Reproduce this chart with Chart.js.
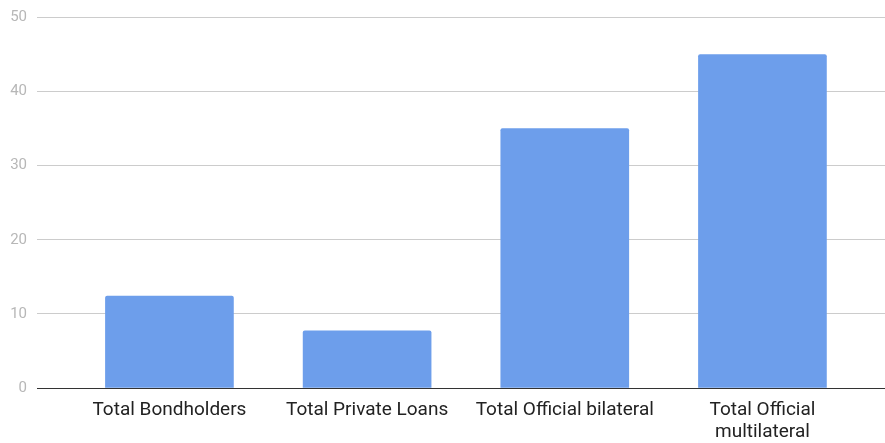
<!DOCTYPE html>
<html>
<head>
<meta charset="utf-8">
<script src="https://cdn.jsdelivr.net/npm/chart.js@4.4.1/dist/chart.umd.min.js"></script>
<style>
  html, body { margin: 0; padding: 0; background: #fff; }
  #wrap { width: 885px; height: 443px; }
</style>
</head>
<body>
<div id="wrap"><canvas id="chart"></canvas></div>
<script>
const categories = [
    'Total Bondholders',
    'Total Private Loans',
    'Total Official bilateral',
    ['Total Official', 'multilateral']
];
const values = [12.4, 7.7, 35, 45];
const yTicks = [0, 10, 20, 30, 40, 50];

const points = values.map((v, i) => ({ x: i, y: v }));

const ctx = document.getElementById('chart').getContext('2d');
new Chart(ctx, {
    type: 'bar',
    data: {
        datasets: [{
            data: points,
            backgroundColor: '#6d9eeb',
            borderRadius: { topLeft: 2, topRight: 2 },
            borderSkipped: 'bottom',
            barThickness: 128
        }]
    },
    options: {
        responsive: true,
        maintainAspectRatio: false,
        animation: false,
        layout: { padding: { top: 11, right: 0, left: 0, bottom: 0 } },
        plugins: { legend: { display: false }, tooltip: { enabled: false } },
        scales: {
            x: {
                type: 'linear',
                offset: false,
                bounds: 'data',
                min: -0.67,
                max: 3.62,
                afterBuildTicks: scale => {
                    scale.ticks = categories.map((c, i) => ({ value: i }));
                },
                afterFit: scale => { scale.height = 55; },
                grid: { display: false, drawTicks: false, offset: false },
                border: { display: true, color: '#333333', width: 1 },
                ticks: {
                    padding: 11,
                    color: '#222222',
                    autoSkip: false,
                    maxRotation: 0,
                    font: { family: 'Roboto', size: 19, lineHeight: 1.16 },
                    callback: (v) => categories[v] !== undefined ? categories[v] : ''
                }
            },
            y: {
                min: 0,
                max: 50,
                afterBuildTicks: scale => {
                    scale.ticks = yTicks.map(v => ({ value: v }));
                },
                afterFit: scale => { scale.width = 37; },
                grid: {
                    drawTicks: false,
                    color: c => c.index === 0 ? '#333333' : '#cccccc'
                },
                border: { display: false },
                ticks: {
                    padding: 10,
                    color: '#b7b7b7',
                    font: { family: 'Roboto', size: 15, lineHeight: 1 }
                }
            }
        }
    }
});
</script>
</body>
</html>
